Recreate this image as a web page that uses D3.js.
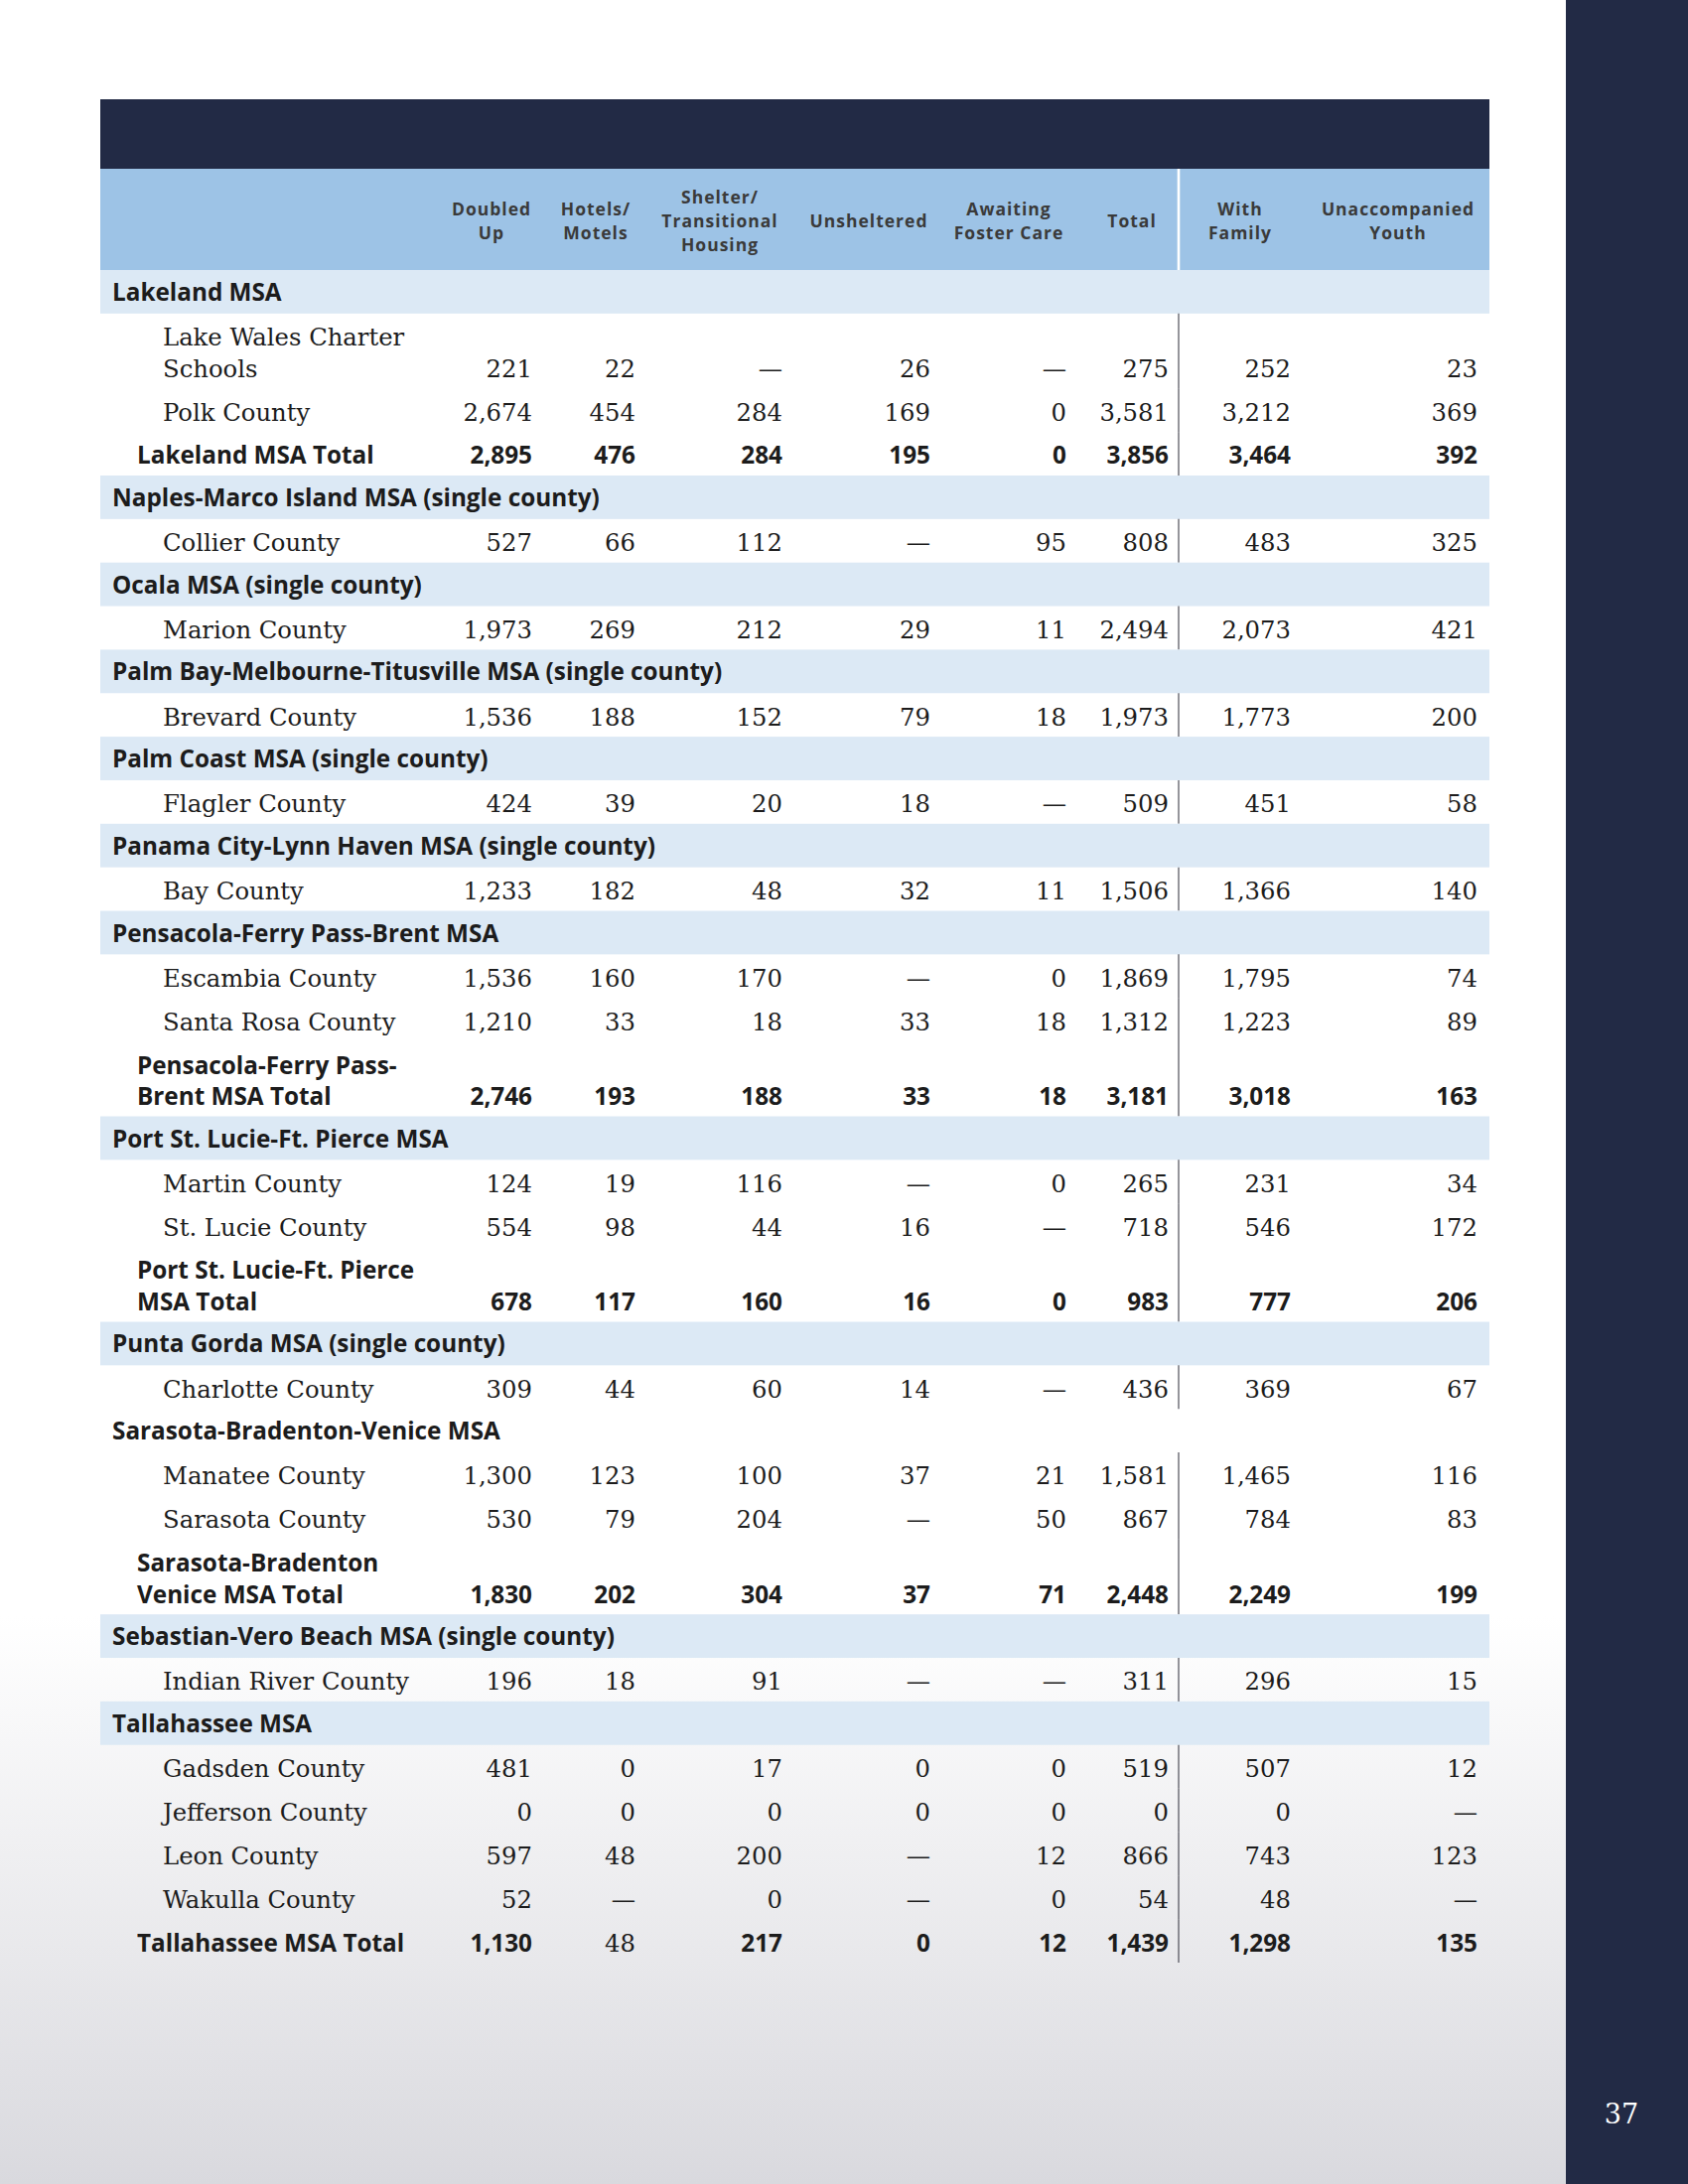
<!DOCTYPE html>
<html><head><meta charset="utf-8">
<script src="https://cdn.jsdelivr.net/npm/d3@7"></script>
<style>html,body{margin:0;padding:0;background:#fff}</style>
</head><body>
<svg id="c" width="1700" height="2200"></svg>
<script>
// ---------------- DATA ----------------
const DASH = "—";
const columnHeaders = [
  ["Doubled","Up"], ["Hotels/","Motels"], ["Shelter/","Transitional","Housing"],
  ["Unsheltered"], ["Awaiting","Foster Care"], ["Total"], ["With","Family"], ["Unaccompanied","Youth"]
];
const rowKinds = [
  "group","county","county","total",
  "group","county",
  "group","county",
  "group","county",
  "group","county",
  "group","county",
  "group","county","county","total",
  "group","county","county","total",
  "group","county",
  "subhead","county","county","total",
  "group","county",
  "group","county","county","county","county","total"
];
const rowLabels = [
  "Lakeland MSA","Lake Wales Charter\nSchools","Polk County","Lakeland MSA Total",
  "Naples-Marco Island MSA (single county)","Collier County",
  "Ocala MSA (single county)","Marion County",
  "Palm Bay-Melbourne-Titusville MSA (single county)","Brevard County",
  "Palm Coast MSA (single county)","Flagler County",
  "Panama City-Lynn Haven MSA (single county)","Bay County",
  "Pensacola-Ferry Pass-Brent MSA","Escambia County","Santa Rosa County","Pensacola-Ferry Pass-\nBrent MSA Total",
  "Port St. Lucie-Ft. Pierce MSA","Martin County","St. Lucie County","Port St. Lucie-Ft. Pierce\nMSA Total",
  "Punta Gorda MSA (single county)","Charlotte County",
  "Sarasota-Bradenton-Venice MSA","Manatee County","Sarasota County","Sarasota-Bradenton\nVenice MSA Total",
  "Sebastian-Vero Beach MSA (single county)","Indian River County",
  "Tallahassee MSA","Gadsden County","Jefferson County","Leon County","Wakulla County","Tallahassee MSA Total"
];
const _ = null;
const doubledUp    = [_,221,2674,2895, _,527, _,1973, _,1536, _,424, _,1233, _,1536,1210,2746, _,124,554,678, _,309, _,1300,530,1830, _,196, _,481,0,597,52,1130];
const hotelsMotels = [_,22,454,476, _,66, _,269, _,188, _,39, _,182, _,160,33,193, _,19,98,117, _,44, _,123,79,202, _,18, _,0,0,48,DASH,48];
const shelterTrans = [_,DASH,284,284, _,112, _,212, _,152, _,20, _,48, _,170,18,188, _,116,44,160, _,60, _,100,204,304, _,91, _,17,0,200,0,217];
const unsheltered  = [_,26,169,195, _,DASH, _,29, _,79, _,18, _,32, _,DASH,33,33, _,DASH,16,16, _,14, _,37,DASH,37, _,DASH, _,0,0,DASH,DASH,0];
const awaitingFost = [_,DASH,0,0, _,95, _,11, _,18, _,DASH, _,11, _,0,18,18, _,0,DASH,0, _,DASH, _,21,50,71, _,DASH, _,0,0,12,0,12];
const totals       = [_,275,3581,3856, _,808, _,2494, _,1973, _,509, _,1506, _,1869,1312,3181, _,265,718,983, _,436, _,1581,867,2448, _,311, _,519,0,866,54,1439];
const withFamily   = [_,252,3212,3464, _,483, _,2073, _,1773, _,451, _,1366, _,1795,1223,3018, _,231,546,777, _,369, _,1465,784,2249, _,296, _,507,0,743,48,1298];
const unaccompYouth= [_,23,369,392, _,325, _,421, _,200, _,58, _,140, _,74,89,163, _,34,172,206, _,67, _,116,83,199, _,15, _,12,DASH,123,DASH,135];
// cells of total rows printed in regular (not bold) type: [rowIndex, columnIndex]
const plainCells = [[35,1]];
const pageNumber = "37";

// ---------------- LAYOUT ----------------
const series = [doubledUp,hotelsMotels,shelterTrans,unsheltered,awaitingFost,totals,withFamily,unaccompYouth];
const colRight  = [536,640,788,937,1074,1177,1300,1488];
const colCenter = [495,600,725,875,1016,1140,1249,1408];
const TABLE_L = 101, TABLE_R = 1500, DIVIDER_X = 1187;
const SIDEBAR_X = 1577;
const NAVY = "#222a45";
const SERIF = "'DejaVu Serif', serif";
const SANS = "'Open Sans', sans-serif";
const SERIF_SIZE = 24.3, BOLD_SIZE = 24.3, HDR_SIZE = 17.5, HDR_LINE = 24;

const svg = d3.select("#c");
const defs = svg.append("defs");
const grad = defs.append("linearGradient").attr("id","bg").attr("x1",0).attr("y1",0).attr("x2",0).attr("y2",1);
grad.append("stop").attr("offset","0%").attr("stop-color","#ffffff");
grad.append("stop").attr("offset","74%").attr("stop-color","#ffffff");
grad.append("stop").attr("offset","100%").attr("stop-color","#d9d9de");
svg.append("rect").attr("x",0).attr("y",0).attr("width",SIDEBAR_X).attr("height",2200).attr("fill","url(#bg)");
svg.append("rect").attr("x",SIDEBAR_X).attr("y",0).attr("width",1700-SIDEBAR_X).attr("height",2200).attr("fill",NAVY);
svg.append("text").attr("x",1633).attr("y",2139).attr("text-anchor","middle")
  .attr("font-family",SERIF).attr("font-size",27).attr("fill","#fff").text(pageNumber);

// header
svg.append("rect").attr("x",TABLE_L).attr("y",100).attr("width",TABLE_R-TABLE_L).attr("height",70).attr("fill",NAVY);
svg.append("rect").attr("x",TABLE_L).attr("y",170).attr("width",TABLE_R-TABLE_L).attr("height",102).attr("fill","#9dc3e6");
svg.append("rect").attr("x",DIVIDER_X-1.3).attr("y",170).attr("width",2.6).attr("height",102).attr("fill","#fff");

const hdr = svg.append("g");
columnHeaders.forEach((lines,i)=>{
  const n = lines.length;
  const t = hdr.append("text").attr("text-anchor","middle").attr("font-family",SANS).attr("font-weight",700)
      .attr("font-size",HDR_SIZE).attr("letter-spacing",1.0).attr("fill","#3a3a3a");
  lines.forEach((ln,j)=>{
    t.append("tspan").attr("x",colCenter[i]).attr("y",229 + (j-(n-1)/2)*HDR_LINE).text(ln);
  });
});

// rows via a linear scale over cumulative row units
const units = rowLabels.map((l,i)=> (rowKinds[i]==="group"||rowKinds[i]==="subhead") ? 1 : (l.includes("\n") ? 1.72 : 1));
const cum = [0]; units.forEach(u=>cum.push(cum[cum.length-1]+u));
const y = d3.scaleLinear().domain([0,cum[cum.length-1]]).range([272,1977]);
const fmt = d3.format(",");

const body = svg.append("g");
rowLabels.forEach((label,i)=>{
  const kind = rowKinds[i];
  const top = y(cum[i]), bot = y(cum[i+1]);
  if (kind==="group") {
    body.append("rect").attr("x",TABLE_L).attr("y",top).attr("width",TABLE_R-TABLE_L).attr("height",bot-top).attr("fill","#dce9f5");
  }
  if (kind==="group"||kind==="subhead") {
    body.append("text").attr("x",113).attr("y",top+31).attr("font-family",SANS).attr("font-weight",700)
      .attr("font-size",BOLD_SIZE).attr("fill","#1c1c1c").text(label);
    return;
  }
  // divider
  body.append("line").attr("x1",DIVIDER_X).attr("x2",DIVIDER_X).attr("y1",top).attr("y2",bot)
    .attr("stroke","#3e3e4a").attr("stroke-width",1.1);
  const lines = label.split("\n");
  const lastBase = bot - 11.5;
  const isTotal = kind==="total";
  const lt = body.append("text").attr("font-family", isTotal ? SANS : SERIF).attr("font-weight", isTotal ? 700 : 400)
      .attr("font-size", isTotal ? BOLD_SIZE : SERIF_SIZE).attr("fill","#1c1c1c");
  lines.forEach((ln,j)=>{
    lt.append("tspan").attr("x", isTotal ? 138 : 164).attr("y", lastBase - (lines.length-1-j)*31.5).text(ln);
  });
  series.forEach((s,c)=>{
    const v = s[i];
    if (v===null) return;
    const plain = plainCells.some(p=>p[0]===i && p[1]===c);
    const bold = isTotal && !plain && v!==DASH;
    body.append("text").attr("x",colRight[c]).attr("y",lastBase).attr("text-anchor","end")
      .attr("font-family", bold ? SANS : SERIF).attr("font-weight", bold ? 700 : 400)
      .attr("font-size", bold ? BOLD_SIZE : SERIF_SIZE).attr("fill","#1c1c1c").text(v===DASH ? DASH : fmt(v));
  });
});
</script>
</body></html>
